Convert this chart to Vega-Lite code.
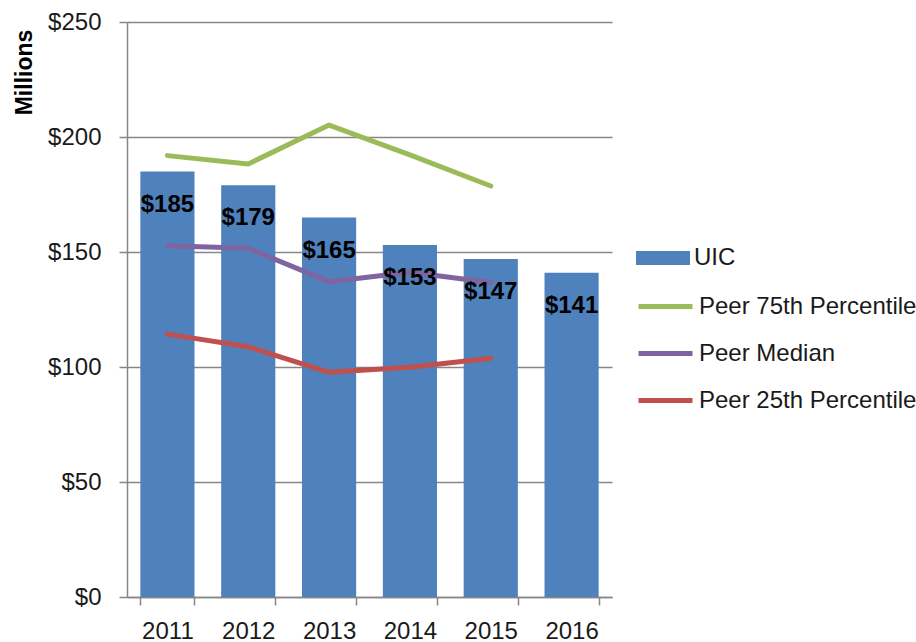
{
  "$schema": "https://vega.github.io/schema/vega-lite/v6.json",
  "width": 485,
  "height": 575,
  "autosize": {"type": "none"},
  "padding": {"left": 127, "top": 22, "right": 304, "bottom": 45},
  "background": "white",
  "config": {
    "view": {"stroke": null},
    "font": "Liberation Sans",
    "axis": {"labelFont": "Liberation Sans", "labelFontSize": 24, "labelColor": "#1a1a1a", "domainColor": "#868686", "tickColor": "#868686", "gridColor": "#868686", "domainWidth": 1.5, "tickWidth": 1.5, "gridWidth": 1.5},
    "legend": {"labelFont": "Liberation Sans", "labelFontSize": 24, "labelColor": "#1a1a1a", "padding": 0, "labelLimit": 400}
  },
  "datasets": {
    "vals": [
      {"year": "2011", "series": "UIC", "value": 185},
      {"year": "2012", "series": "UIC", "value": 179},
      {"year": "2013", "series": "UIC", "value": 165},
      {"year": "2014", "series": "UIC", "value": 153},
      {"year": "2015", "series": "UIC", "value": 147},
      {"year": "2016", "series": "UIC", "value": 141},
      {"year": "2011", "series": "Peer 75th Percentile", "value": 191.9},
      {"year": "2012", "series": "Peer 75th Percentile", "value": 188.3},
      {"year": "2013", "series": "Peer 75th Percentile", "value": 205.2},
      {"year": "2014", "series": "Peer 75th Percentile", "value": 192.2},
      {"year": "2015", "series": "Peer 75th Percentile", "value": 178.7},
      {"year": "2011", "series": "Peer Median", "value": 152.7},
      {"year": "2012", "series": "Peer Median", "value": 151.6},
      {"year": "2013", "series": "Peer Median", "value": 137.1},
      {"year": "2014", "series": "Peer Median", "value": 141.2},
      {"year": "2015", "series": "Peer Median", "value": 136.7},
      {"year": "2011", "series": "Peer 25th Percentile", "value": 114.3},
      {"year": "2012", "series": "Peer 25th Percentile", "value": 108.8},
      {"year": "2013", "series": "Peer 25th Percentile", "value": 97.7},
      {"year": "2014", "series": "Peer 25th Percentile", "value": 99.9},
      {"year": "2015", "series": "Peer 25th Percentile", "value": 103.8}
    ]
  },
  "data": {"name": "vals"},
  "encoding": {
    "x": {
      "field": "year", "type": "ordinal", "title": null,
      "scale": {"paddingInner": 0.33, "paddingOuter": 0.165},
      "axis": {"labelAngle": 0, "tickBand": "extent", "tickSize": 8, "labelPadding": 14, "grid": false}
    }
  },
  "layer": [
    {
      "transform": [{"filter": "datum.series === 'UIC'"}],
      "mark": {"type": "bar", "stroke": null},
      "encoding": {
        "y": {
          "field": "value", "type": "quantitative",
          "scale": {"domain": [0, 250], "nice": false, "zero": true},
          "axis": {"values": [0, 50, 100, 150, 200, 250], "format": "$d", "tickSize": 8, "labelPadding": 18, "grid": true,
            "title": "Millions", "titleFont": "Liberation Sans", "titleFontSize": 23, "titleFontWeight": "bold", "titleColor": "#000",
            "titleAngle": -90, "titleX": -103, "titleY": 50, "titleAlign": "center", "titleBaseline": "middle"}
        },
        "fill": {
          "field": "series", "type": "nominal",
          "scale": {"domain": ["UIC"], "range": ["#4F81BD"]},
          "legend": {"title": null, "orient": "none", "legendX": 509, "legendY": 209,
            "symbolType": "M-1,-0.26L1,-0.26L1,0.26L-1,0.26Z", "symbolSize": 2916, "symbolStrokeWidth": 0, "labelOffset": 4}
        }
      }
    },
    {
      "transform": [{"filter": "datum.series !== 'UIC'"}],
      "mark": {"type": "line", "strokeWidth": 5, "strokeCap": "round", "strokeJoin": "round"},
      "encoding": {
        "y": {"field": "value", "type": "quantitative"},
        "stroke": {
          "field": "series", "type": "nominal",
          "scale": {"domain": ["Peer 75th Percentile", "Peer Median", "Peer 25th Percentile"], "range": ["#9BBB59", "#8064A2", "#C0504D"]},
          "legend": {"title": null, "orient": "none", "legendX": 509, "legendY": 255,
            "symbolType": "stroke", "symbolSize": 2916, "symbolStrokeWidth": 5, "labelOffset": 4, "rowPadding": 5}
        }
      }
    },
    {
      "transform": [{"filter": "datum.series === 'UIC'"}],
      "mark": {"type": "text", "dy": 33, "baseline": "middle", "align": "center", "font": "Liberation Sans", "fontSize": 24, "fontWeight": "bold", "color": "#000"},
      "encoding": {
        "y": {"field": "value", "type": "quantitative"},
        "text": {"field": "value", "type": "quantitative", "format": "$d"}
      }
    }
  ]
}
